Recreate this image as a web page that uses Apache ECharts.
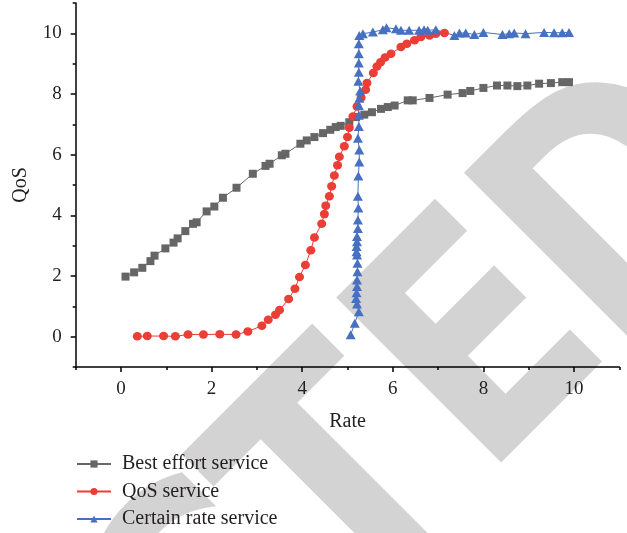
<!DOCTYPE html>
<html><head><meta charset="utf-8">
<script src="https://cdn.jsdelivr.net/npm/echarts@6/dist/echarts.min.js"></script>
<style>html,body{margin:0;padding:0;background:#fff}#c{width:627px;height:533px}</style>
</head><body><div id="c"></div><script>
const seriesNames = ['Best effort service', 'QoS service', 'Certain rate service'];
const xMajorTicks = [0, 2, 4, 6, 8, 10];
const xMinorTicks = [-1, 1, 3, 5, 7, 9, 11];
const yMajorTicks = [0, 2, 4, 6, 8, 10];
const yMinorTicks = [-1, 1, 3, 5, 7, 9, 11];

const bestX = [0.10,0.29,0.47,0.65,0.74,0.98,1.16,1.25,1.42,1.59,1.67,1.89,2.06,2.25,2.55,2.91,3.19,3.28,3.55,3.63,3.96,4.10,4.27,4.46,4.62,4.74,4.85,5.04,5.19,5.37,5.54,5.74,5.89,6.04,6.33,6.44,6.81,7.21,7.54,7.71,8.00,8.30,8.53,8.75,8.97,9.23,9.49,9.74,9.89];
const bestY = [1.98,2.12,2.27,2.49,2.67,2.91,3.10,3.24,3.48,3.72,3.77,4.13,4.29,4.58,4.91,5.37,5.63,5.70,5.98,6.03,6.36,6.47,6.58,6.71,6.82,6.91,6.95,7.07,7.24,7.32,7.40,7.51,7.57,7.62,7.79,7.79,7.87,7.98,8.03,8.10,8.20,8.28,8.28,8.26,8.28,8.34,8.36,8.39,8.39];

const qosX = [0.36,0.58,0.94,1.20,1.48,1.82,2.18,2.54,2.80,3.11,3.25,3.41,3.50,3.70,3.84,3.94,4.07,4.19,4.27,4.43,4.49,4.52,4.60,4.65,4.71,4.78,4.82,4.93,5.00,5.04,5.12,5.21,5.30,5.40,5.43,5.57,5.65,5.73,5.83,5.96,6.18,6.31,6.48,6.62,6.81,6.95,7.14];
const qosY = [0.01,0.02,0.02,0.01,0.07,0.07,0.08,0.07,0.17,0.36,0.56,0.72,0.88,1.24,1.58,1.97,2.36,2.85,3.27,3.72,4.04,4.32,4.63,4.96,5.31,5.65,5.93,6.28,6.58,6.89,7.26,7.59,7.88,8.14,8.36,8.69,8.91,9.05,9.20,9.33,9.55,9.66,9.77,9.88,9.93,9.99,10.01];

const certX = [5.07,5.16,5.25,5.21,5.19,5.20,5.21,5.21,5.22,5.22,5.21,5.20,5.20,5.21,5.21,5.23,5.23,5.24,5.23,5.24,5.26,5.26,5.23,5.25,5.25,5.25,5.26,5.28,5.24,5.25,5.25,5.25,5.25,5.26,5.34,5.56,5.78,5.86,6.07,6.18,6.36,6.58,6.69,6.77,6.95,7.36,7.47,7.61,7.80,8.00,8.42,8.57,8.68,8.93,9.34,9.56,9.74,9.89];
const certY = [0.06,0.44,0.82,1.08,1.26,1.45,1.65,1.87,2.14,2.42,2.69,2.80,2.97,3.13,3.30,3.57,3.85,4.24,4.63,5.30,5.76,6.15,6.54,6.93,7.30,7.62,7.86,8.10,8.42,8.72,9.02,9.33,9.66,9.93,9.99,10.04,10.12,10.18,10.15,10.10,10.10,10.10,10.12,10.10,10.12,9.93,10.01,10.01,9.96,10.03,9.96,9.99,10.01,9.99,10.03,10.02,10.02,10.03];

// watermark letters (visible part of "RETRACTED")
const wmLetters = ['C', 'T', 'E', 'D'];

const zip = (xs, ys) => xs.map((x, i) => [x, ys[i]]);
const FONT = '"Liberation Serif", "DejaVu Serif", serif';
const TXT = '#231f20';

const chart = echarts.init(document.getElementById('c'), null, {renderer: 'canvas'});

const wmPos = [[220, 628], [353, 495], [491, 355], [633, 216]];
const watermark = wmLetters.map((ch, i) => ({
  type: 'text', z: -100, silent: true,
  x: wmPos[i][0], y: wmPos[i][1], rotation: Math.PI / 4, scaleX: 0.86, scaleY: 1,
  style: {text: ch, font: 'bold 320px "DejaVu Sans"', fill: '#d3d3d3', textAlign: 'center', textVerticalAlign: 'middle'}
}));

const axisCommon = {type: 'value', min: -1, max: 11, splitLine: {show: false}};
chart.setOption({
  animation: false,
  backgroundColor: '#fff',
  graphic: watermark,
  grid: {left: 75.7, right: 7.7, top: 3, bottom: 166, containLabel: false},
  legend: {
    orient: 'vertical', left: 76, top: 454, padding: 0, itemWidth: 34, itemHeight: 9, itemGap: 7.5,
    textStyle: {fontFamily: FONT, fontSize: 20, color: TXT, lineHeight: 20, padding: [0, 0, 0, 6]},
    data: seriesNames
  },
  xAxis: [
    Object.assign({}, axisCommon, {
      position: 'bottom',
      name: 'Rate', nameLocation: 'middle', nameGap: 45,
      nameTextStyle: {fontFamily: FONT, fontSize: 20, color: TXT},
      axisLine: {show: true, onZero: false, lineStyle: {color: '#000', width: 1.5}},
      axisTick: {show: true, inside: false, length: 5, lineStyle: {color: '#000', width: 1.5}, customValues: xMajorTicks},
      axisLabel: {fontFamily: FONT, fontSize: 19, color: TXT, margin: 13, customValues: xMajorTicks}
    }),
    Object.assign({}, axisCommon, {
      position: 'bottom',
      axisLine: {show: false, onZero: false},
      axisTick: {show: true, inside: false, length: 3, lineStyle: {color: '#000', width: 1.5}, customValues: xMinorTicks},
      axisLabel: {show: false}
    })
  ],
  yAxis: [
    Object.assign({}, axisCommon, {
      position: 'left',
      name: 'QoS', nameLocation: 'middle', nameGap: 45,
      nameTextStyle: {fontFamily: FONT, fontSize: 20, color: TXT},
      axisLine: {show: true, onZero: false, lineStyle: {color: '#000', width: 1.5}},
      axisTick: {show: true, inside: false, length: 5, lineStyle: {color: '#000', width: 1.5}, customValues: yMajorTicks},
      axisLabel: {fontFamily: FONT, fontSize: 19, color: TXT, margin: 14, customValues: yMajorTicks}
    }),
    Object.assign({}, axisCommon, {
      position: 'left',
      axisLine: {show: false, onZero: false},
      axisTick: {show: true, inside: false, length: 3, lineStyle: {color: '#000', width: 1.5}, customValues: yMinorTicks},
      axisLabel: {show: false}
    })
  ],
  series: [
    {name: seriesNames[0], type: 'line', data: zip(bestX, bestY), symbol: 'rect', symbolSize: 8,
     itemStyle: {color: '#666666'}, lineStyle: {color: '#666666', width: 1}},
    {name: seriesNames[1], type: 'line', data: zip(qosX, qosY), symbol: 'circle', symbolSize: [9, 8.5],
     itemStyle: {color: '#ea3e36'}, lineStyle: {color: '#ea3e36', width: 1}},
    {name: seriesNames[2], type: 'line', data: zip(certX, certY), symbol: 'triangle', symbolSize: [10, 9],
     itemStyle: {color: '#4670c2'}, lineStyle: {color: '#4670c2', width: 1}}
  ]
});
</script></body></html>
